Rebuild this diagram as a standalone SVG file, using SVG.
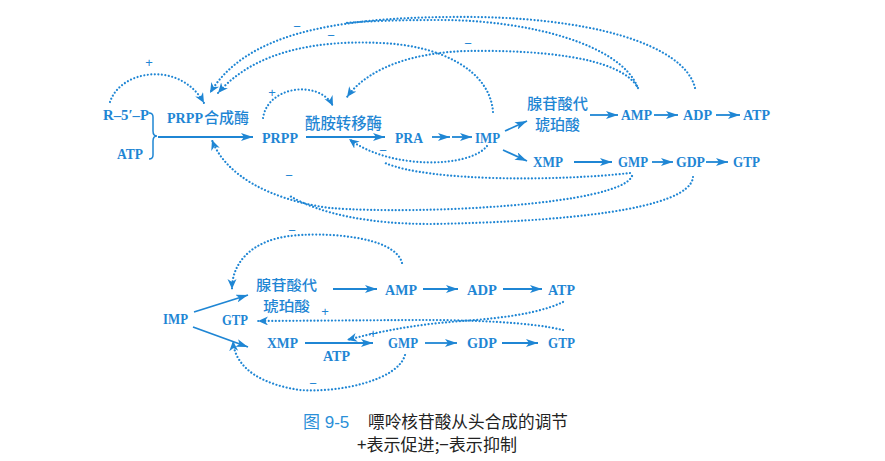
<svg xmlns="http://www.w3.org/2000/svg" width="885" height="461" viewBox="0 0 885 461">
<defs>
<style>
.lat{font-family:"Liberation Serif","Noto Sans CJK SC",serif;font-weight:bold;font-size:15px;fill:#1f86d4}
.cjk{font-family:"Noto Sans CJK SC",sans-serif;font-weight:500;font-size:15px;fill:#1f86d4}
.sign{font-family:"Liberation Sans",sans-serif;font-size:13px;fill:#1f86d4}
.solid{fill:none;stroke:#1f86d4;stroke-width:1.8;marker-end:url(#ah)}
.dot{fill:none;stroke:#1f86d4;stroke-width:2.2;stroke-linecap:round;stroke-dasharray:0.01 3.5}
.dota{marker-end:url(#dh)}
.cap{font-family:"Noto Sans CJK SC",sans-serif;font-size:16.5px;fill:#222}
</style>
<marker id="ah" markerUnits="userSpaceOnUse" markerWidth="13" markerHeight="8" refX="12" refY="4" orient="auto">
<path d="M0,0 L12,4 L0,8 L3,4 z" fill="#1f86d4"/>
</marker>
<marker id="dh" markerUnits="userSpaceOnUse" markerWidth="12" markerHeight="10" refX="10" refY="4.5" orient="auto">
<path d="M0,0 L10,4.5 L0,9 L3,4.5 z" fill="#1f86d4"/>
</marker>
</defs>
<rect width="885" height="461" fill="#ffffff"/>

<g id="connectors">
<path d="M149,113 Q153,113 153,117 L153,131 Q153,136 157,136 Q153,136 153,141 L153,155 Q153,159 149,159" fill="none" stroke="#1f86d4" stroke-width="1.5"/>
<line class="solid" x1="158" y1="137" x2="253" y2="137"/>
<line class="solid" x1="306" y1="137" x2="385" y2="137"/>
<line class="solid" x1="432" y1="137" x2="450" y2="137"/>
<line class="solid" x1="452" y1="137" x2="472" y2="137"/>
<line class="solid" x1="505" y1="131" x2="527" y2="121"/>
<line class="solid" x1="503" y1="150" x2="527" y2="161"/>
<line class="solid" x1="590" y1="115" x2="618" y2="115"/>
<line class="solid" x1="654" y1="115" x2="678" y2="115"/>
<line class="solid" x1="716" y1="115" x2="740" y2="115"/>
<line class="solid" x1="574" y1="162" x2="612" y2="162"/>
<line class="solid" x1="652" y1="162" x2="673" y2="162"/>
<line class="solid" x1="706" y1="162" x2="728" y2="162"/>
<line class="solid" x1="194" y1="312" x2="248" y2="295"/>
<line class="solid" x1="193" y1="327" x2="248" y2="347"/>
<line class="solid" x1="333" y1="289" x2="377" y2="289"/>
<line class="solid" x1="423" y1="289" x2="458" y2="289"/>
<line class="solid" x1="503" y1="289" x2="542" y2="289"/>
<line class="solid" x1="305" y1="343" x2="373" y2="343"/>
<line class="solid" x1="425" y1="343" x2="457" y2="343"/>
<line class="solid" x1="502" y1="343" x2="538" y2="343"/>

<path class="dot dota" d="M110,102 C120,70 180,60 204,103"/>
<path class="dot dota" d="M263,118 C268,85 320,80 333,106"/>
<path class="dot dota" d="M695,88 C685,45 590,15 450,17 C330,18 245,35 210,93"/>
<path class="dot" d="M637,86 C620,45 530,20 440,20 C400,20 370,21 345,23"/>
<path class="dot dota" d="M493,112 C490,70 440,45 380,43 C320,40 255,50 218,93"/>
<path class="dot dota" d="M638,88 C620,55 530,50 468,51 C420,52 370,65 347,97"/>
<path class="dot dota" d="M487,146 C470,168 390,170 349,139"/>
<path class="dot" d="M630,173 C560,181 430,182 385,163"/>
<path class="dot dota" d="M632,176 C620,205 420,215 330,208 C270,200 225,175 212,140"/>
<path class="dot" d="M693,177 C690,210 560,222 430,224 C370,224 320,214 290,196"/>
<path class="dot dota" d="M402,263 C395,235 320,232 290,236 C255,240 232,260 232,289"/>
<path class="dot dota" d="M405,355 C398,380 340,393 300,390 C265,385 235,370 233,341"/>
<path class="dot dota" d="M563,330 C530,322 470,320 420,320 L258,321"/>
<path class="dot dota" d="M563,302 C530,318 470,320 450,322 Q400,326 347,340"/>

<text class="sign" x="149" y="67" text-anchor="middle">+</text>
<text class="sign" x="272" y="97" text-anchor="middle">+</text>
<text class="sign" x="297" y="31" text-anchor="middle">−</text>
<text class="sign" x="331" y="40" text-anchor="middle">−</text>
<text class="sign" x="468" y="48" text-anchor="middle">−</text>
<text class="sign" x="383" y="155" text-anchor="middle">−</text>
<text class="sign" x="289" y="180" text-anchor="middle">−</text>
<text class="sign" x="292" y="235" text-anchor="middle">−</text>
<text class="sign" x="313" y="388" text-anchor="middle">−</text>
<text class="sign" x="325" y="316" text-anchor="middle">+</text>
<text class="sign" x="373" y="338" text-anchor="middle">+</text>
</g>

<g id="n-r5p"><text class="lat" x="103" y="120" textLength="46" lengthAdjust="spacingAndGlyphs">R–5′–P</text></g>
<g id="n-atp0"><text class="lat" x="117" y="159" textLength="26" lengthAdjust="spacingAndGlyphs">ATP</text></g>
<g id="n-prppsyn"><text x="167" y="123"><tspan class="lat" textLength="36" lengthAdjust="spacingAndGlyphs">PRPP</tspan><tspan class="cjk" x="204">合成酶</tspan></text></g>
<g id="n-prpp"><text class="lat" x="262" y="143" textLength="36" lengthAdjust="spacingAndGlyphs">PRPP</text></g>
<g id="n-amido"><text class="cjk" x="305" y="129" style="font-size:15.4px">酰胺转移酶</text></g>
<g id="n-pra"><text class="lat" x="395" y="143" textLength="28" lengthAdjust="spacingAndGlyphs">PRA</text></g>
<g id="n-imp"><text class="lat" x="475" y="143" textLength="25" lengthAdjust="spacingAndGlyphs">IMP</text></g>
<g id="n-sami">
<text class="cjk" x="527" y="108.5" style="font-size:14.4px" textLength="61" lengthAdjust="spacingAndGlyphs">腺苷酸代</text>
<text class="cjk" x="535" y="129.5" style="font-size:14.4px" textLength="45" lengthAdjust="spacingAndGlyphs">琥珀酸</text>
</g>
<g id="n-amp"><text class="lat" x="621" y="120" textLength="31" lengthAdjust="spacingAndGlyphs">AMP</text></g>
<g id="n-adp"><text class="lat" x="683" y="120" textLength="29" lengthAdjust="spacingAndGlyphs">ADP</text></g>
<g id="n-atp"><text class="lat" x="743" y="120" textLength="27" lengthAdjust="spacingAndGlyphs">ATP</text></g>
<g id="n-xmp"><text class="lat" x="533" y="167" textLength="30" lengthAdjust="spacingAndGlyphs">XMP</text></g>
<g id="n-gmp"><text class="lat" x="618" y="167" textLength="30" lengthAdjust="spacingAndGlyphs">GMP</text></g>
<g id="n-gdp"><text class="lat" x="676" y="167" textLength="29" lengthAdjust="spacingAndGlyphs">GDP</text></g>
<g id="n-gtp"><text class="lat" x="733" y="167" textLength="27" lengthAdjust="spacingAndGlyphs">GTP</text></g>

<g id="b-imp"><text class="lat" x="163" y="324" textLength="25" lengthAdjust="spacingAndGlyphs">IMP</text></g>
<g id="b-sami">
<text class="cjk" x="256" y="290" style="font-size:14.2px" textLength="61" lengthAdjust="spacingAndGlyphs">腺苷酸代</text>
<text class="cjk" x="263" y="310.6" style="font-size:14.2px" textLength="47" lengthAdjust="spacingAndGlyphs">琥珀酸</text>
</g>
<g id="b-amp"><text class="lat" x="385" y="295" textLength="32" lengthAdjust="spacingAndGlyphs">AMP</text></g>
<g id="b-adp"><text class="lat" x="467" y="295" textLength="30" lengthAdjust="spacingAndGlyphs">ADP</text></g>
<g id="b-atp"><text class="lat" x="548" y="295" textLength="27" lengthAdjust="spacingAndGlyphs">ATP</text></g>
<g id="b-gtpl"><text class="lat" x="222" y="325" textLength="26" lengthAdjust="spacingAndGlyphs">GTP</text></g>
<g id="b-xmp"><text class="lat" x="267" y="348" textLength="31" lengthAdjust="spacingAndGlyphs">XMP</text></g>
<g id="b-atpl"><text class="lat" x="323" y="361" textLength="27" lengthAdjust="spacingAndGlyphs">ATP</text></g>
<g id="b-gmp"><text class="lat" x="388" y="348" textLength="30" lengthAdjust="spacingAndGlyphs">GMP</text></g>
<g id="b-gdp"><text class="lat" x="467" y="348" textLength="30" lengthAdjust="spacingAndGlyphs">GDP</text></g>
<g id="b-gtp"><text class="lat" x="548" y="348" textLength="27" lengthAdjust="spacingAndGlyphs">GTP</text></g>

<g id="caption">
<text x="303" y="428" style="font-family:'Liberation Sans','Noto Sans CJK SC',sans-serif;font-size:17px;fill:#2a8fd8">图 9-5</text>
<text class="cap" x="368" y="428" textLength="200" lengthAdjust="spacingAndGlyphs">嘌呤核苷酸从头合成的调节</text>
<text class="cap" x="357" y="451" textLength="160" lengthAdjust="spacingAndGlyphs">+表示促进;−表示抑制</text>
</g>
</svg>
